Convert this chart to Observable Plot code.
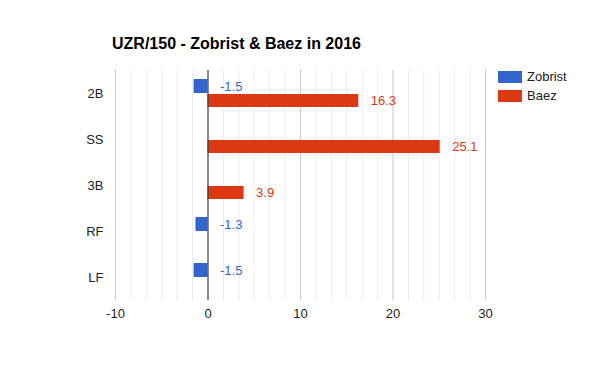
<!DOCTYPE html>
<html><head><meta charset="utf-8">
<script src="https://cdn.jsdelivr.net/npm/d3@7"></script>
<script src="https://cdn.jsdelivr.net/npm/@observablehq/plot@0.6"></script>
<style>
body{margin:0;background:#fff;font-family:"Liberation Sans",Arial,sans-serif;}
#wrap{position:relative;width:600px;height:371px;}
#title{position:absolute;left:112px;top:35px;font-size:16px;font-weight:bold;color:#000;}
.leg{position:absolute;left:498px;font-size:13px;color:#222;display:flex;align-items:center;}
.leg span.sw{display:inline-block;width:24px;height:12px;margin-right:5px;}
</style></head>
<body><div id="wrap"><div id="chart"></div><div id="title"></div><div id="legend"></div></div>
<script>
const positions = ["2B", "SS", "3B", "RF", "LF"];
const seriesNames = ["Zobrist", "Baez"];
const zobrist = [-1.5, null, null, -1.3, -1.5];
const baez = [16.3, 25.1, 3.9, null, null];
const xTicks = [-10, 0, 10, 20, 30];
const colors = ["#3366cc", "#dc3912"];
const titleText = "UZR/150 - Zobrist & Baez in 2016";

const rows = [];
positions.forEach((p, i) => {
  if (zobrist[i] != null) rows.push({pos: p, series: "Zobrist", value: zobrist[i]});
  if (baez[i] != null) rows.push({pos: p, series: "Baez", value: baez[i]});
});
const zRows = rows.filter(d => d.series === "Zobrist");
const bRows = rows.filter(d => d.series === "Baez");
const minor = d3.range(0, 25).map(k => -10 + k * 10 / 6).filter(v => v <= 30.001);

const chart = Plot.plot({
  width: 600, height: 371,
  marginLeft: 115, marginRight: 115, marginTop: 70, marginBottom: 71,
  style: {fontFamily: "'Liberation Sans', Arial, sans-serif", fontSize: "13px", color: "#222"},
  x: {domain: [-10, 30], ticks: xTicks, tickSize: 0, tickPadding: 8, label: null, tickFormat: d => String(d)},
  y: {domain: positions, paddingInner: 0.39, paddingOuter: 0.195, tickSize: 0, tickPadding: 12, label: null},
  marks: [
    Plot.ruleX(minor, {stroke: "#ebebeb", strokeOpacity: 1}),
    Plot.ruleX(xTicks, {stroke: "#cccccc", strokeOpacity: 1}),
    Plot.barX(zRows, {x: "value", y: "pos", fill: colors[0], insetBottom: 14}),
    Plot.barX(bRows, {x: "value", y: "pos", fill: colors[1], insetTop: 15}),
    Plot.ruleX([0], {stroke: "#333333"}),
    Plot.text(zRows, {x: d => Math.max(0, d.value), y: "pos", text: d => d.value.toFixed(1), dx: 12, dy: -7, textAnchor: "start", fill: colors[0], fontSize: 13}),
    Plot.text(bRows, {x: d => Math.max(0, d.value), y: "pos", text: d => d.value.toFixed(1), dx: 12, dy: 7, textAnchor: "start", fill: colors[1], fontSize: 13})
  ]
});
document.getElementById("chart").appendChild(chart);
document.getElementById("title").textContent = titleText;
const leg = document.getElementById("legend");
seriesNames.forEach((s, i) => {
  const d = document.createElement("div");
  d.className = "leg";
  d.style.top = (69 + i * 19) + "px";
  d.innerHTML = `<span class="sw" style="background:${colors[i]}"></span>`;
  d.appendChild(document.createTextNode(s));
  leg.appendChild(d);
});
</script></body></html>
